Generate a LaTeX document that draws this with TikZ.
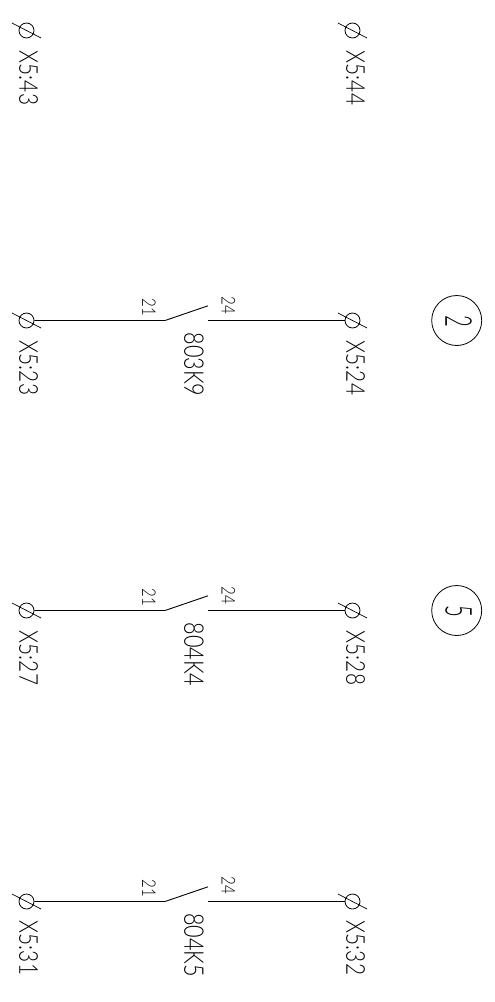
\documentclass[tikz,border=0pt]{standalone}
\usepackage{fontspec}
\setmainfont{Lato Light}
\usetikzlibrary{calc}
\begin{document}
\begin{tikzpicture}[x=1pt, y=-1pt, line width=0.8pt]
% Define styles
\tikzstyle{terminal} = [circle, draw=black, inner sep=0pt, minimum size=15pt]
\tikzstyle{sheet} = [circle, draw=black, inner sep=0pt, minimum size=50pt]
\tikzstyle{slash} = [line width=0.7pt]
\tikzstyle{wire} = [line width=0.9pt]
\tikzstyle{termlabel} = [rotate=-90, xscale=0.8, inner sep=0pt, font=\fontsize{26}{26}\selectfont]
\tikzstyle{devlabel} = [rotate=-90, xscale=0.8, inner sep=0pt, font=\fontsize{27}{27}\selectfont]
\tikzstyle{pinlabel} = [rotate=-90, xscale=0.8, inner sep=0pt, font=\fontsize{19}{19}\selectfont]
\tikzstyle{sheetlabel} = [rotate=-90, xscale=0.55, inner sep=0pt, font=\fontsize{37}{37}\selectfont]
\useasboundingbox (0,0) rectangle (495,1002);
% Place terminals
\node (a1) [terminal] at (26.5,30.5) {};
\node (b1) [terminal] at (352.5,30.5) {};
\node (a2) [terminal] at (26.5,320.5) {};
\node (b2) [terminal] at (352.5,320.5) {};
\node (a3) [terminal] at (26.5,610.5) {};
\node (b3) [terminal] at (352.5,610.5) {};
\node (a4) [terminal] at (26.5,901.5) {};
\node (b4) [terminal] at (352.5,901.5) {};
% Place labels
\node (la1) [termlabel] at (28.5,78) {X5:43};
\node (lb1) [termlabel] at (355.5,78) {X5:44};
\node (la2) [termlabel] at (28.5,368) {X5:23};
\node (lb2) [termlabel] at (355.5,368) {X5:24};
\node (la3) [termlabel] at (28.5,658) {X5:27};
\node (lb3) [termlabel] at (355.5,658) {X5:28};
\node (la4) [termlabel] at (28.5,948) {X5:31};
\node (lb4) [termlabel] at (355.5,948) {X5:32};
\node (k2) [devlabel] at (194,364.5) {803K9};
\node (k3) [devlabel] at (194,654.5) {804K4};
\node (k4) [devlabel] at (194,945) {804K5};
\node (p2) [pinlabel] at (149,307.5) {21};
\node (q2) [pinlabel] at (228.5,305) {24};
\node (p3) [pinlabel] at (149,597.5) {21};
\node (q3) [pinlabel] at (228.5,595) {24};
\node (p4) [pinlabel] at (149,888) {21};
\node (q4) [pinlabel] at (228.5,885.5) {24};
\node (s2) [sheet] at (456.7,320.5) {};
\node (s5) [sheet] at (456.7,610.5) {};
\node (t2) [sheetlabel] at (458.5,321.5) {2};
\node (t5) [sheetlabel] at (458.5,611.5) {5};
% Contact points
\coordinate (h2) at (165,320.5);
\coordinate (f2) at (208,320.5);
\coordinate (h3) at (165,610.5);
\coordinate (f3) at (208,610.5);
\coordinate (h4) at (165,901.5);
\coordinate (f4) at (208,901.5);
% Draw slashes
\draw [slash] ($(a1)+(-14.5,-7.5)$) -- ($(a1)+(14.5,7.5)$);
\draw [slash] ($(b1)+(-14.5,-7.5)$) -- ($(b1)+(14.5,7.5)$);
\draw [slash] ($(a2)+(-14.5,-7.5)$) -- ($(a2)+(14.5,7.5)$);
\draw [slash] ($(b2)+(-14.5,-7.5)$) -- ($(b2)+(14.5,7.5)$);
\draw [slash] ($(a3)+(-14.5,-7.5)$) -- ($(a3)+(14.5,7.5)$);
\draw [slash] ($(b3)+(-14.5,-7.5)$) -- ($(b3)+(14.5,7.5)$);
\draw [slash] ($(a4)+(-14.5,-7.5)$) -- ($(a4)+(14.5,7.5)$);
\draw [slash] ($(b4)+(-14.5,-7.5)$) -- ($(b4)+(14.5,7.5)$);
% Draw wires
\draw [wire] (a2) -- (h2) -- ++(43,-14.7);
\draw [wire] (f2) -- (b2);
\draw [wire] (a3) -- (h3) -- ++(43,-14.7);
\draw [wire] (f3) -- (b3);
\draw [wire] (a4) -- (h4) -- ++(43,-14.7);
\draw [wire] (f4) -- (b4);
\end{tikzpicture}
\end{document}
